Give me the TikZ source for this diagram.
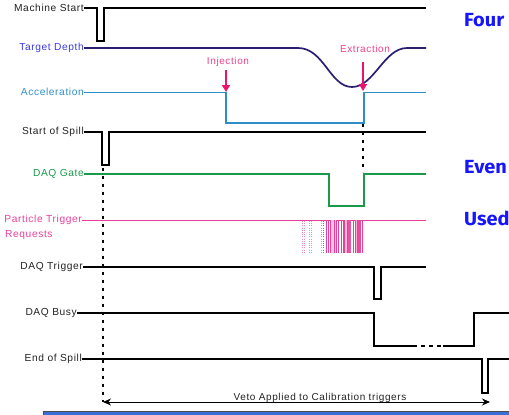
\documentclass[tikz,border=0pt]{standalone}
\usepackage{fontspec}
\setmainfont{Liberation Sans}[LetterSpace=6]
\newfontfamily\bigfont{Fira Sans}[FakeStretch=1.05]
\usetikzlibrary{arrows.meta}
\definecolor{lblk}{HTML}{222222}
\definecolor{navy}{HTML}{2B2070}
\definecolor{tdblue}{HTML}{3A3AE0}
\definecolor{accblue}{HTML}{2E8FC8}
\definecolor{hotpink}{HTML}{F0106E}
\definecolor{ptpink}{HTML}{E8409A}
\definecolor{gategreen}{HTML}{1A9A4A}
\definecolor{bigblue}{HTML}{1515FF}
\definecolor{barblue}{HTML}{3A6FD8}
\tikzset{
  lbl/.style={anchor=east, inner sep=0pt, font=\fontsize{10.2}{12}\selectfont, text=lblk},
  sig/.style={line width=1.7pt, draw=black, line join=miter},
  dotv/.style={line width=1.8pt, dash pattern=on 3pt off 5pt},
  evarrow/.style={line width=1.5pt, draw=hotpink, -{Triangle[length=7pt,width=8pt]}},
  evlbl/.style={inner sep=0pt, font=\fontsize{10}{12}\selectfont, text=hotpink!80},
  bigtxt/.style={anchor=west, inner sep=0pt, font=\bigfont\bfseries\fontsize{19}{21}\selectfont, text=bigblue},
  trig/.style={draw=ptpink, line width=0.8pt},
  trigdot/.style={draw=ptpink!60, line width=0.8pt, dash pattern=on 1pt off 1.2pt},
}
\begin{document}
\begin{tikzpicture}[x=1pt,y=-1pt]
\useasboundingbox (0,0) rectangle (509,415);
\clip (0,0) rectangle (509,415);

% labels
\node[lbl] (ms) at (84,8) {Machine Start};
\node[lbl, text=tdblue] (td) at (84,48) {Target Depth};
\node[lbl, text=accblue] (acc) at (84,92) {Acceleration};
\node[lbl] (sos) at (84,132) {Start of Spill};
\node[lbl, text=gategreen] (gate) at (84,174) {DAQ Gate};
\node[lbl, text=ptpink] (ptr) at (82,220) {Particle Trigger};
\node[lbl, text=ptpink, anchor=west] (ptr2) at (5,235) {Requests};
\node[lbl] (dtrig) at (83,267) {DAQ Trigger};
\node[lbl] (dbusy) at (77,313) {DAQ Busy};
\node[lbl] (eos) at (82,359) {End of Spill};

% Machine Start
\draw[sig] (ms.east) -- (97,8) -- (97,41) -- (104,41) -- (104,8) -- (426,8);
% Target Depth
\draw[line width=1.7pt, draw=navy] (td.east) -- (298,48)
  .. controls (324,48) and (330,87) .. (352,87)
  .. controls (374,87) and (384,48) .. (407,48) -- (426,48);
% Acceleration
\draw[line width=0.9pt, draw=accblue] (acc.east) -- (226,92);
\draw[line width=2pt, draw=accblue] (226,92) -- (226,123) -- (364,123) -- (364,92);
\draw[line width=0.9pt, draw=accblue] (363,92) -- (426,92);
% Start of Spill
\draw[sig] (sos.east) -- (102,132) -- (102,165) -- (109,165) -- (109,132) -- (426,132);
% DAQ Gate
\draw[line width=1.9pt, draw=gategreen] (gate.east) -- (329,174) -- (329,206) -- (364,206) -- (364,174) -- (426,174);
% Particle trigger requests
\draw[line width=0.9pt, draw=ptpink] (ptr.east) -- (426,220);
\fill[ptpink!30] (331,220) rectangle (337,253);
\fill[ptpink!35] (344,220) rectangle (347,253);
\fill[ptpink!90] (348,220) rectangle (351,253);
\fill[ptpink!40] (355,220) rectangle (357,253);
\fill[ptpink!95] (357,220) rectangle (361,253);
\foreach \xx in {302.5,304.5,309.5,311,321}
  \draw[trigdot] (\xx,221) -- (\xx,253);
\draw[draw=ptpink, line width=0.8pt, dash pattern=on 1pt off 1.2pt] (323,221) -- (323,253);
\foreach \xx in {326,328.5,330.5,334,336,338,341,343,344.5,347.5,353.5,355,357,362}
  \draw[trig] (\xx,220) -- (\xx,253);
% DAQ Trigger
\draw[sig] (dtrig.east) -- (374,267) -- (374,299) -- (381,299) -- (381,267) -- (426,267);
% DAQ Busy
\draw[sig] (dbusy.east) -- (374,313) -- (374,346) -- (413,346);
\draw[line width=1.5pt, dash pattern=on 4pt off 4pt] (413,346) -- (443,346);
\draw[sig] (443,346) -- (474,346) -- (474,313) -- (509,313);
% End of Spill
\draw[sig] (eos.east) -- (482,359) -- (482,393) -- (488,393) -- (488,359) -- (509,359);

% dotted verticals
\coordinate (d1t) at (103,168);
\coordinate (d1b) at (103,402);
\coordinate (d2t) at (363,124);
\coordinate (d2b) at (363,172);
\draw[dotv] (d1t) -- (d1b);
\draw[dotv] (d2t) -- (d2b);

% event arrows
\node[evlbl] (inj) at (228,62) {Injection};
\coordinate (injtip) at (226,92);
\draw[evarrow] (226,70) -- (injtip);
\node[evlbl] (ext) at (365,49) {Extraction};
\coordinate (exttip) at (363,91);
\draw[evarrow] (363,62) -- (exttip);

% veto arrow
\coordinate (va) at (103,402);
\coordinate (vb) at (490,402);
\draw[line width=1pt, {Stealth[length=8pt,width=7pt]}-{Stealth[length=8pt,width=7pt]}] (va) -- (vb);
\node[inner sep=0pt, font=\fontsize{10}{12}\selectfont, text=lblk] (veto) at (320,397.5) {Veto Applied to Calibration triggers};

% right-hand text (cut off at the edge as in the reference)
\node[bigtxt] (four) at (464,20) {Four};
\node[bigtxt] (even) at (464,167) {Even};
\node[bigtxt] (used) at (464,218) {Used};

% bottom bar
\fill[barblue] (43,412) rectangle (509,416);
\draw[line width=0.8pt, draw=black!70] (43,416) -- (43,411.8) -- (509,411.8);
\end{tikzpicture}
\end{document}
